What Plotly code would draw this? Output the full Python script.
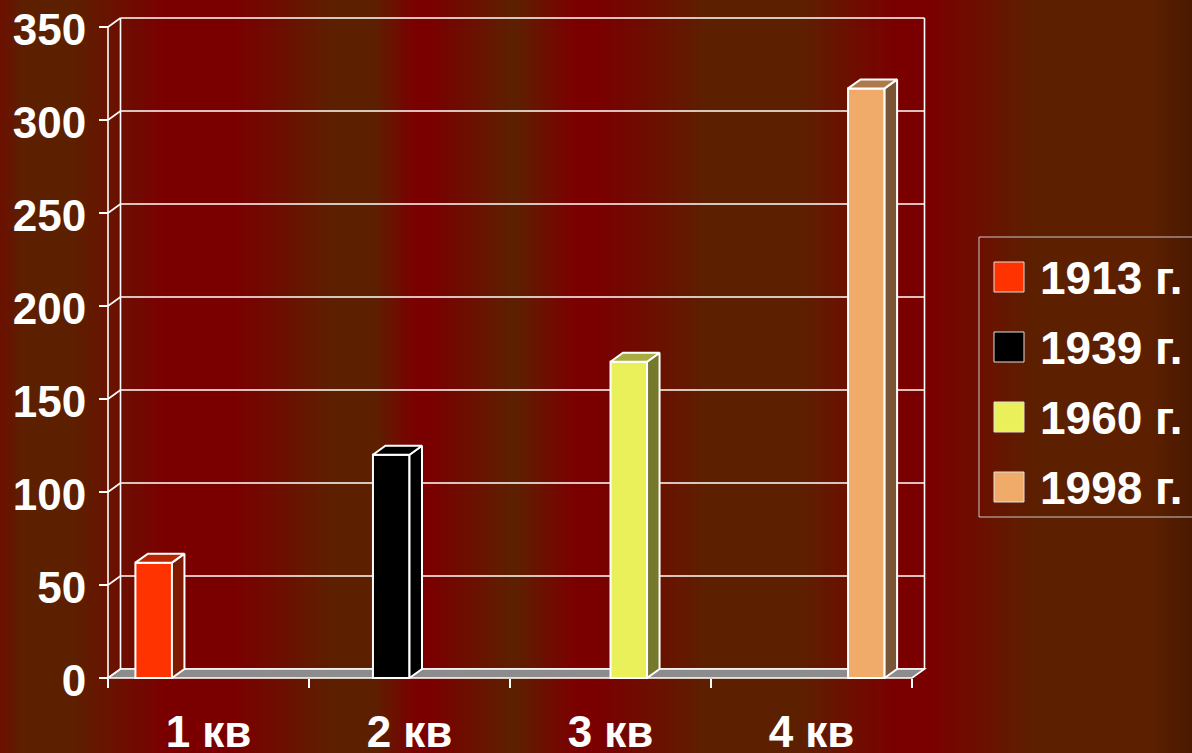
import plotly.graph_objects as go

# ---------------- data ----------------
categories = ["1 кв", "2 кв", "3 кв", "4 кв"]
series_names = ["1913 г.", "1939 г.", "1960 г.", "1998 г."]
v1913 = [62, None, None, None]
v1939 = [None, 120, None, None]
v1960 = [None, None, 170, None]
v1998 = [None, None, None, 317]
y_ticks = [0, 50, 100, 150, 200, 250, 300, 350]
front_colors = ["#FF3300", "#000000", "#EAF05A", "#F0AA6A"]

series_values = [v1913, v1939, v1960, v1998]

# ---------------- geometry (pixels) ----------------
W, H = 1192, 753
PX_X0 = 108            # pixel of category edge -0.5
PX_UNIT = 201          # pixels per category
PX_Y0 = 678            # pixel of value 0
PX_PER_VAL = (678 - 27) / 350.0
DEPTH_X, DEPTH_Y = 12.5, 9.0

dom_l, dom_r, dom_t, dom_b = 100, 935, 0, 690


def xr(px):
    return -0.5 + (px - PX_X0) / PX_UNIT


def yr(py):
    return (PX_Y0 - py) / PX_PER_VAL


x_range = [xr(dom_l), xr(dom_r)]
y_range = [yr(dom_b), yr(dom_t)]
ddx = DEPTH_X / PX_UNIT
ddy = DEPTH_Y / PX_PER_VAL
x_lo, x_hi = -0.5, len(categories) - 0.5
y_top = max(y_ticks)


def shade(hexc, f):
    h = hexc.lstrip("#")
    r, g, b = (int(h[i:i + 2], 16) for i in (0, 2, 4))
    return "#%02X%02X%02X" % (int(r * f), int(g * f), int(b * f))


fig = go.Figure()

# ---------------- background stripes ----------------
stops = [(0, "#6C1000"), (25, "#5C2000"), (70, "#5C2000"), (165, "#7A0000"),
         (235, "#7A0000"), (335, "#5C2000"), (375, "#5C2000"), (415, "#7A0000"),
         (430, "#7A0000"), (515, "#5C2000"), (575, "#7A0000"), (600, "#7A0000"),
         (710, "#5C2000"), (800, "#5C2000"), (895, "#7A0000"), (930, "#7A0000"),
         (1035, "#5C2000"), (1150, "#5C2000"), (1192, "#4A1800")]


def hex2rgb(h):
    h = h.lstrip("#")
    return [int(h[i:i + 2], 16) for i in (0, 2, 4)]


def bg_color(px):
    for (a, ca), (b, cb) in zip(stops[:-1], stops[1:]):
        if a <= px <= b:
            t = (px - a) / (b - a) if b > a else 0
            c1, c2 = hex2rgb(ca), hex2rgb(cb)
            return "rgb(%d,%d,%d)" % tuple(round(c1[k] + (c2[k] - c1[k]) * t) for k in range(3))
    return stops[-1][1]


shapes = []
step = 4
for px in range(0, W, step):
    shapes.append(dict(type="rect", xref="paper", yref="paper",
                       x0=px / W, x1=min(px + step + 1, W) / W, y0=0, y1=1,
                       fillcolor=bg_color(px + step / 2), line=dict(width=0), layer="below"))

# ---------------- walls, gridlines, floor ----------------
grid_col = "#FFFFFF"
for t in y_ticks:
    shapes.append(dict(type="line", xref="x", yref="y", x0=x_lo + ddx, x1=x_hi + ddx,
                       y0=t + ddy, y1=t + ddy, line=dict(color=grid_col, width=1.6), layer="below"))
    shapes.append(dict(type="line", xref="x", yref="y", x0=x_lo, x1=x_lo + ddx,
                       y0=t, y1=t + ddy, line=dict(color=grid_col, width=1.6), layer="below"))
for xx in (x_lo + ddx, x_hi + ddx):
    shapes.append(dict(type="line", xref="x", yref="y", x0=xx, x1=xx,
                       y0=ddy, y1=y_top + ddy, line=dict(color=grid_col, width=1.6), layer="below"))
# left axis line
shapes.append(dict(type="line", xref="x", yref="y", x0=x_lo, x1=x_lo, y0=0, y1=y_top,
                   line=dict(color=grid_col, width=1.6), layer="below"))
# floor
shapes.append(dict(type="path", xref="x", yref="y",
                   path="M %f,%f L %f,%f L %f,%f L %f,%f Z" % (x_lo, 0, x_hi, 0, x_hi + ddx, ddy, x_lo + ddx, ddy),
                   fillcolor="#8C8C8C", line=dict(color="#FFFFFF", width=1.6), layer="below"))

# ---------------- bars ----------------
n = len(series_names)
w = 1.0 / (n + 1.5)
for i, (name, vals, col) in enumerate(zip(series_names, series_values, front_colors)):
    off = -0.5 + 0.75 * w + i * w
    fig.add_trace(go.Bar(x=list(range(len(categories))), y=vals, width=w, offset=off, name=name,
                         marker=dict(color=col, line=dict(color="#FFFFFF", width=2)),
                         showlegend=False, hoverinfo="y+name"))
    for c, v in enumerate(vals):
        if v is None:
            continue
        xl = c + off
        xrt = xl + w
        fig.add_trace(go.Scatter(
            x=[xrt, xrt + ddx, xrt + ddx, xrt, xrt], y=[0, ddy, v + ddy, v, 0],
            fill="toself", fillcolor=shade(col, 0.5), mode="lines",
            line=dict(color="#FFFFFF", width=2), showlegend=False, hoverinfo="skip"))
        fig.add_trace(go.Scatter(
            x=[xl, xl + ddx, xrt + ddx, xrt, xl], y=[v, v + ddy, v + ddy, v, v],
            fill="toself", fillcolor=shade(col, 0.72), mode="lines",
            line=dict(color="#FFFFFF", width=2), showlegend=False, hoverinfo="skip"))

# ---------------- manual legend ----------------
annotations = []
leg_x0, leg_x1, leg_y0, leg_y1 = 979, 1200, 237, 517
shapes.append(dict(type="rect", xref="paper", yref="paper", x0=leg_x0 / W, x1=leg_x1 / W,
                   y0=1 - leg_y1 / H, y1=1 - leg_y0 / H, line=dict(color="#C8C8C8", width=1),
                   fillcolor="rgba(0,0,0,0)", layer="above"))
row0, row_gap, sq = 277, 70, 30
for i, (name, col) in enumerate(zip(series_names, front_colors)):
    cy = row0 + i * row_gap
    shapes.append(dict(type="rect", xref="paper", yref="paper",
                       x0=994 / W, x1=(994 + sq) / W, y0=1 - (cy + sq / 2) / H, y1=1 - (cy - sq / 2) / H,
                       fillcolor=col, line=dict(color="#E0E0E0", width=1), layer="above"))
    annotations.append(dict(xref="paper", yref="paper", x=1038 / W, y=1 - (cy + 1) / H, text=name,
                            showarrow=False, xanchor="left", yanchor="middle",
                            font=dict(family="Liberation Sans, Arial, sans-serif", size=46,
                                      color="#FFFFFF", weight="bold")))

axis_font = dict(family="Liberation Sans, Arial, sans-serif", size=44, color="#FFFFFF", weight="bold")

fig.update_layout(
    template="none",
    width=W, height=H,
    margin=dict(l=0, r=0, t=0, b=0, pad=0),
    paper_bgcolor="#5C2000",
    plot_bgcolor="rgba(0,0,0,0)",
    barmode="overlay",
    showlegend=False,
    shapes=shapes,
    annotations=annotations,
    xaxis=dict(domain=[dom_l / W, dom_r / W], range=x_range, anchor="free", position=(H - PX_Y0) / H,
               automargin=False,
               tickmode="array", tickvals=list(range(len(categories))), ticktext=categories,
               ticks="", showgrid=False, zeroline=False, showline=False, tickfont=axis_font,
               ticklabelstandoff=24, fixedrange=True,
               minor=dict(tickmode="array", tickvals=[k - 0.5 for k in range(len(categories) + 1)],
                          ticks="outside", ticklen=9, tickwidth=1.6, tickcolor="#FFFFFF", showgrid=False)),
    yaxis=dict(domain=[(H - dom_b) / H, (H - dom_t) / H], range=y_range, anchor="free", position=PX_X0 / W,
               automargin=False,
               tickmode="array", tickvals=y_ticks, ticks="outside", ticklen=9, tickwidth=1.6,
               tickcolor="#FFFFFF", showgrid=False, zeroline=False, showline=False, tickfont=axis_font,
               ticklabelstandoff=4, ticklabelshift=3, fixedrange=True),
)

fig.write_html("out.html", post_script="document.body.style.margin='0';",
               config={"displayModeBar": False})
